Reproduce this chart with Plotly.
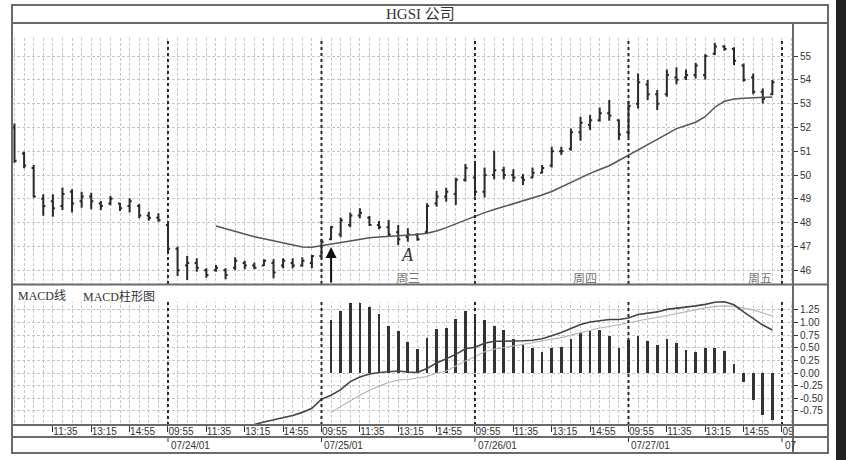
import plotly.graph_objects as go

# ---------------- data ----------------
bar_idx = list(range(80))  # 25-minute bars, 16 per session

highs = [52.17, 50.98, 50.42, 49.19, 49.19, 49.48, 49.40, 49.30, 49.26, 48.91,
         49.12, 48.84, 49.02, 48.78, 48.46, 48.39, 48.00, 46.99, 46.60, 46.50,
         46.08, 46.22, 46.08, 46.54, 46.40, 46.32, 46.46, 46.46, 46.50, 46.50,
         46.54, 46.64, 47.30, 47.86, 48.22, 48.42, 48.60, 48.28, 48.07, 48.11,
         47.90, 47.76, 47.55, 48.81, 49.33, 49.47, 49.89, 50.46, 50.50, 50.32,
         51.02, 50.35, 50.24, 50.04, 50.32, 50.42, 51.19, 51.19, 51.96, 52.45,
         52.52, 52.84, 53.15, 52.34, 53.10, 54.27, 53.99, 53.57, 54.44, 54.53,
         54.44, 54.72, 55.08, 55.56, 55.46, 55.37, 54.69, 54.27, 53.64, 53.99]
lows = [50.52, 50.28, 49.05, 48.29, 48.25, 48.53, 48.42, 48.63, 48.56, 48.53,
        48.73, 48.49, 48.42, 48.18, 48.08, 48.04, 46.80, 45.76, 45.59, 45.94,
        45.68, 45.94, 45.62, 46.01, 46.04, 46.04, 46.18, 45.66, 46.08, 46.08,
        46.15, 46.08, 46.50, 47.27, 47.38, 47.80, 48.18, 47.86, 47.72, 47.41,
        47.06, 47.20, 47.24, 47.52, 48.67, 48.88, 48.74, 49.72, 49.10, 49.06,
        49.82, 49.82, 49.72, 49.58, 49.86, 50.07, 50.32, 50.84, 51.02, 51.44,
        51.89, 52.24, 52.28, 51.47, 51.60, 52.80, 53.15, 52.73, 53.29, 53.82,
        53.99, 54.06, 54.02, 55.04, 55.22, 54.62, 53.92, 53.40, 53.01, 53.36]
opens = [52.00, 50.90, 50.30, 49.00, 48.90, 48.70, 49.30, 48.90, 49.10, 48.80,
         48.80, 48.80, 48.70, 48.70, 48.30, 48.20, 47.90, 46.90, 46.20, 46.30,
         46.00, 46.00, 46.00, 46.10, 46.30, 46.20, 46.20, 46.30, 46.20, 46.30,
         46.20, 46.30, 46.60, 47.30, 47.50, 47.90, 48.30, 48.20, 47.90, 47.80,
         47.60, 47.40, 47.50, 47.60, 48.80, 49.10, 49.20, 49.80, 49.90, 49.30,
         50.00, 50.20, 50.00, 49.90, 49.90, 50.10, 50.40, 51.00, 51.10, 51.80,
         52.10, 52.30, 52.60, 52.30, 51.80, 53.00, 53.80, 53.40, 53.40, 54.10,
         54.10, 54.20, 54.20, 55.10, 55.40, 55.30, 54.60, 54.10, 53.50, 53.40]
closes = [50.60, 50.40, 49.10, 48.70, 48.60, 49.20, 48.80, 49.10, 48.90, 48.70,
          49.00, 48.60, 48.90, 48.30, 48.20, 48.10, 46.90, 46.00, 46.30, 46.10,
          45.80, 46.10, 45.80, 46.40, 46.20, 46.10, 46.40, 45.90, 46.40, 46.20,
          46.40, 46.60, 47.20, 47.80, 48.10, 48.30, 48.40, 47.90, 47.80, 47.50,
          47.30, 47.50, 47.30, 48.70, 49.10, 49.30, 49.80, 50.30, 49.30, 50.00,
          50.20, 50.00, 49.90, 49.80, 50.10, 50.30, 51.00, 51.00, 51.80, 52.20,
          52.30, 52.60, 52.50, 51.70, 52.90, 53.90, 53.40, 53.00, 54.20, 54.00,
          54.20, 54.60, 55.00, 55.40, 55.30, 54.80, 54.00, 53.50, 53.20, 53.90]

ma_start = 21
ma_vals = [47.86, 47.74, 47.62, 47.52, 47.41, 47.32, 47.23, 47.13, 47.05, 46.98,
           46.96, 47.02, 47.07, 47.16, 47.23, 47.30, 47.36, 47.40, 47.42, 47.44,
           47.47, 47.50, 47.55, 47.65, 47.79, 47.95, 48.12, 48.28, 48.42, 48.55,
           48.67, 48.79, 48.90, 49.02, 49.16, 49.31, 49.50, 49.68, 49.90, 50.07,
           50.23, 50.39, 50.61, 50.84, 51.08, 51.28, 51.50, 51.72, 51.95, 52.08,
           52.22, 52.45, 52.85, 53.10, 53.20, 53.23, 53.25, 53.27, 53.28]

macd_start = 24
macd_vals = [-1.10, -1.02, -0.97, -0.93, -0.89, -0.84, -0.78, -0.70, -0.52, -0.44,
             -0.33, -0.17, -0.08, -0.02, 0.01, 0.03, 0.04, 0.02, 0.01, 0.09,
             0.20, 0.28, 0.37, 0.48, 0.51, 0.59, 0.63, 0.63, 0.63, 0.64,
             0.65, 0.68, 0.74, 0.80, 0.88, 0.96, 1.01, 1.04, 1.06, 1.06,
             1.09, 1.16, 1.19, 1.21, 1.26, 1.28, 1.30, 1.33, 1.36, 1.40,
             1.41, 1.35, 1.21, 1.08, 0.95, 0.85]

signal_start = 33
signal_vals = [-0.78, -0.66, -0.55, -0.44, -0.34, -0.26, -0.19, -0.14, -0.13, -0.10,
               -0.07, 0.00, 0.04, 0.14, 0.24, 0.32, 0.42, 0.47, 0.50, 0.53,
               0.56, 0.60, 0.64, 0.67, 0.70, 0.75, 0.80, 0.85, 0.89, 0.92,
               0.96, 1.00, 1.03, 1.07, 1.10, 1.14, 1.18, 1.22, 1.26, 1.29,
               1.32, 1.33, 1.32, 1.29, 1.25, 1.19, 1.13]

hist_start = 33
hist_vals = [1.04, 1.23, 1.39, 1.39, 1.31, 1.16, 0.94, 0.84, 0.61, 0.47,
             0.69, 0.88, 0.90, 1.06, 1.23, 1.10, 1.04, 0.93, 0.85, 0.67,
             0.55, 0.49, 0.41, 0.50, 0.52, 0.67, 0.80, 0.84, 0.85, 0.73,
             0.49, 0.65, 0.73, 0.64, 0.55, 0.67, 0.59, 0.46, 0.42, 0.49,
             0.49, 0.44, 0.18, -0.17, -0.53, -0.83, -0.94]

price_ticks = [46, 47, 48, 49, 50, 51, 52, 53, 54, 55]
macd_ticks = [-0.75, -0.50, -0.25, 0.00, 0.25, 0.50, 0.75, 1.00, 1.25]

day_starts = [16, 32, 48, 64, 80]
date_labels = ["07/24/01", "07/25/01", "07/26/01", "07/27/01", "07"]
time_tick_idx = [4, 8, 12, 16, 20, 24, 28, 32, 36, 40, 44, 48, 52, 56, 60, 64, 68, 72, 76, 80]
time_tick_text = ["11:35", "13:15", "14:55",
                  "09:55", "11:35", "13:15", "14:55",
                  "09:55", "11:35", "13:15", "14:55",
                  "09:55", "11:35", "13:15", "14:55",
                  "09:55", "11:35", "13:15", "14:55",
                  "09"]

title_text = "HGSI 公司"
weekday_notes = ["周三", "周四", "周五"]
weekday_note_x = [41, 59.5, 77.7]
arrow_bar = 33
label_a_bar = 41

# ---------------- layout helpers ----------------
W, H = 846, 460
def px(x):
    return x / W
def py(y):
    return 1 - y / H

X_RANGE = [-0.26, 81.15]
Y_RANGE = [45.42, 56.39]
Y2_RANGE = [-1.03, 1.743]
GRID = "#c6c6c6"
INK = "#2a2a2a"
SERIF = "Liberation Serif, Noto Sans CJK SC, serif"
CJK = "Noto Sans CJK SC, sans-serif"
NUMFONT = "Liberation Sans Narrow, Arial Narrow, Liberation Sans, Arial, sans-serif"

fig = go.Figure()

fig.add_trace(go.Ohlc(
    x=bar_idx, open=opens, high=highs, low=lows, close=closes,
    increasing=dict(line=dict(color=INK, width=2)),
    decreasing=dict(line=dict(color=INK, width=2)),
    tickwidth=0.22, xaxis="x", yaxis="y", showlegend=False, hoverinfo="skip"))

fig.add_trace(go.Scatter(
    x=list(range(ma_start, ma_start + len(ma_vals))), y=ma_vals,
    mode="lines", line=dict(color="#555555", width=1.5),
    xaxis="x", yaxis="y", showlegend=False, hoverinfo="skip"))

fig.add_trace(go.Bar(
    x=list(range(hist_start, hist_start + len(hist_vals))), y=hist_vals,
    width=0.28, marker=dict(color="#333333", line=dict(width=0)),
    xaxis="x2", yaxis="y2", showlegend=False, hoverinfo="skip"))

fig.add_trace(go.Scatter(
    x=list(range(signal_start, signal_start + len(signal_vals))), y=signal_vals,
    mode="lines", line=dict(color="#b4b4b4", width=1.1),
    xaxis="x2", yaxis="y2", showlegend=False, hoverinfo="skip"))

fig.add_trace(go.Scatter(
    x=list(range(macd_start, macd_start + len(macd_vals))), y=macd_vals,
    mode="lines", line=dict(color="#444444", width=1.6),
    xaxis="x2", yaxis="y2", showlegend=False, hoverinfo="skip"))

xdom = [px(12), px(793)]
grid_common = dict(gridcolor=GRID, griddash="3px,2px", gridwidth=1)

fig.update_layout(
    width=W, height=H,
    margin=dict(l=0, r=0, t=0, b=0, pad=0),
    paper_bgcolor="white", plot_bgcolor="white",
    bargap=0,
    xaxis=dict(domain=xdom, range=X_RANGE, anchor="y",
               tickmode="linear", tick0=0, dtick=1, showticklabels=False, ticks="",
               showgrid=True, zeroline=False, showline=False,
               rangeslider=dict(visible=False), **grid_common),
    yaxis=dict(domain=[py(284), py(23)], range=Y_RANGE, anchor="x", side="right",
               tickmode="array", tickvals=price_ticks,
               ticktext=[str(v) for v in price_ticks],
               ticks="outside", ticklen=4, tickcolor="#333", tickwidth=1,
               tickfont=dict(family=NUMFONT, size=10, color="#333"),
               showgrid=True, zeroline=False, showline=False, **grid_common),
    xaxis2=dict(domain=xdom, range=X_RANGE, anchor="y2",
                tickmode="array", tickvals=time_tick_idx, ticktext=time_tick_text,
                ticks="outside", ticklen=6, tickcolor="#333", tickwidth=1,
                ticklabelposition="outside right", ticklabelstandoff=-3,
                tickfont=dict(family=NUMFONT, size=10, color="#333"),
                showgrid=True, zeroline=False, showline=False,
                minor=dict(tickmode="linear", tick0=0, dtick=1, showgrid=True,
                           ticks="", gridcolor=GRID, griddash="3px,2px", gridwidth=1),
                **grid_common),
    yaxis2=dict(domain=[py(425), py(285)], range=Y2_RANGE, anchor="x2", side="right",
                tickmode="array", tickvals=macd_ticks,
                ticktext=[f"{v:.2f}" for v in macd_ticks],
                ticks="outside", ticklen=4, tickcolor="#333", tickwidth=1,
                tickfont=dict(family=NUMFONT, size=10, color="#333"),
                showgrid=True, zeroline=False, showline=False, **grid_common),
)

shapes = []
# masks hiding the grid above the plotting field of each panel
shapes.append(dict(type="rect", xref="x", yref="y", x0=X_RANGE[0], x1=X_RANGE[1],
                   y0=55.76, y1=Y_RANGE[1], fillcolor="white", line=dict(width=0),
                   layer="between"))
shapes.append(dict(type="rect", xref="x2", yref="y2", x0=X_RANGE[0], x1=X_RANGE[1],
                   y0=1.41, y1=Y2_RANGE[1], fillcolor="white", line=dict(width=0),
                   layer="between"))
# day separators
for d in day_starts:
    shapes.append(dict(type="line", xref="x", yref="y", x0=d, x1=d, y0=Y_RANGE[0], y1=55.76,
                       line=dict(color=INK, width=2, dash="dot"), layer="above"))
    shapes.append(dict(type="line", xref="x2", yref="y2", x0=d, x1=d, y0=Y2_RANGE[0], y1=1.41,
                       line=dict(color=INK, width=2, dash="dot"), layer="above"))
    shapes.append(dict(type="line", xref="x2", yref="paper", x0=d, x1=d, y0=py(437), y1=py(442),
                       line=dict(color="#333", width=1)))
# frame
FR = "#6a6a6a"
shapes.append(dict(type="rect", xref="paper", yref="paper", x0=px(12), x1=px(828),
                   y0=py(453), y1=py(5), line=dict(color=FR, width=2)))
for yy in [23, 284.5, 425, 437]:
    shapes.append(dict(type="line", xref="paper", yref="paper", x0=px(12), x1=px(828),
                       y0=py(yy), y1=py(yy), line=dict(color=FR, width=2)))
shapes.append(dict(type="line", xref="paper", yref="paper", x0=px(793), x1=px(793),
                   y0=py(453), y1=py(23), line=dict(color=FR, width=2)))
# dark scan edge on the right
shapes.append(dict(type="line", xref="paper", yref="paper", x0=px(841), x1=px(841),
                   y0=0, y1=1, line=dict(color="#222222", width=10), layer="above"))
fig.update_layout(shapes=shapes)

ann = []
ann.append(dict(text=title_text, xref="paper", yref="paper", x=px(420), y=py(14),
                xanchor="center", yanchor="middle",
                showarrow=False, font=dict(family=SERIF, size=15, color="#333")))
ann.append(dict(text="MACD线", xref="paper", yref="paper", x=px(16), y=py(296),
                xanchor="left", yanchor="middle",
                showarrow=False, font=dict(family=SERIF, size=12, color="#333")))
ann.append(dict(text="MACD柱形图", xref="paper", yref="paper", x=px(81), y=py(296),
                xanchor="left", yanchor="middle",
                showarrow=False, font=dict(family=SERIF, size=12, color="#333")))
for lab, d in zip(date_labels, day_starts):
    ann.append(dict(text=lab, xref="x2", yref="paper", x=d, y=py(445), xanchor="left",
                    yanchor="middle", xshift=1, showarrow=False,
                    font=dict(family=NUMFONT, size=10, color="#333")))
for lab, xv in zip(weekday_notes, weekday_note_x):
    ann.append(dict(text=lab, xref="x", yref="paper", x=xv, y=py(277),
                    xanchor="center", yanchor="middle",
                    showarrow=False, font=dict(family=CJK, size=12, color="#777")))
ann.append(dict(text="<i>A</i>", xref="x", yref="y", x=label_a_bar, y=lows[label_a_bar] - 0.55,
                xanchor="center", yanchor="middle",
                showarrow=False, font=dict(family=SERIF, size=18, color="#333")))
ann.append(dict(text="", xref="x", yref="y", x=arrow_bar, y=lows[arrow_bar] - 0.3,
                ax=0, ay=37, showarrow=True, arrowhead=2, arrowsize=1.1, arrowwidth=2,
                arrowcolor="#111", standoff=0))
fig.update_layout(annotations=ann)

fig.write_html("out.html", config={"displayModeBar": False},
               post_script="document.body.style.margin='0px';document.body.style.overflow='hidden';")
